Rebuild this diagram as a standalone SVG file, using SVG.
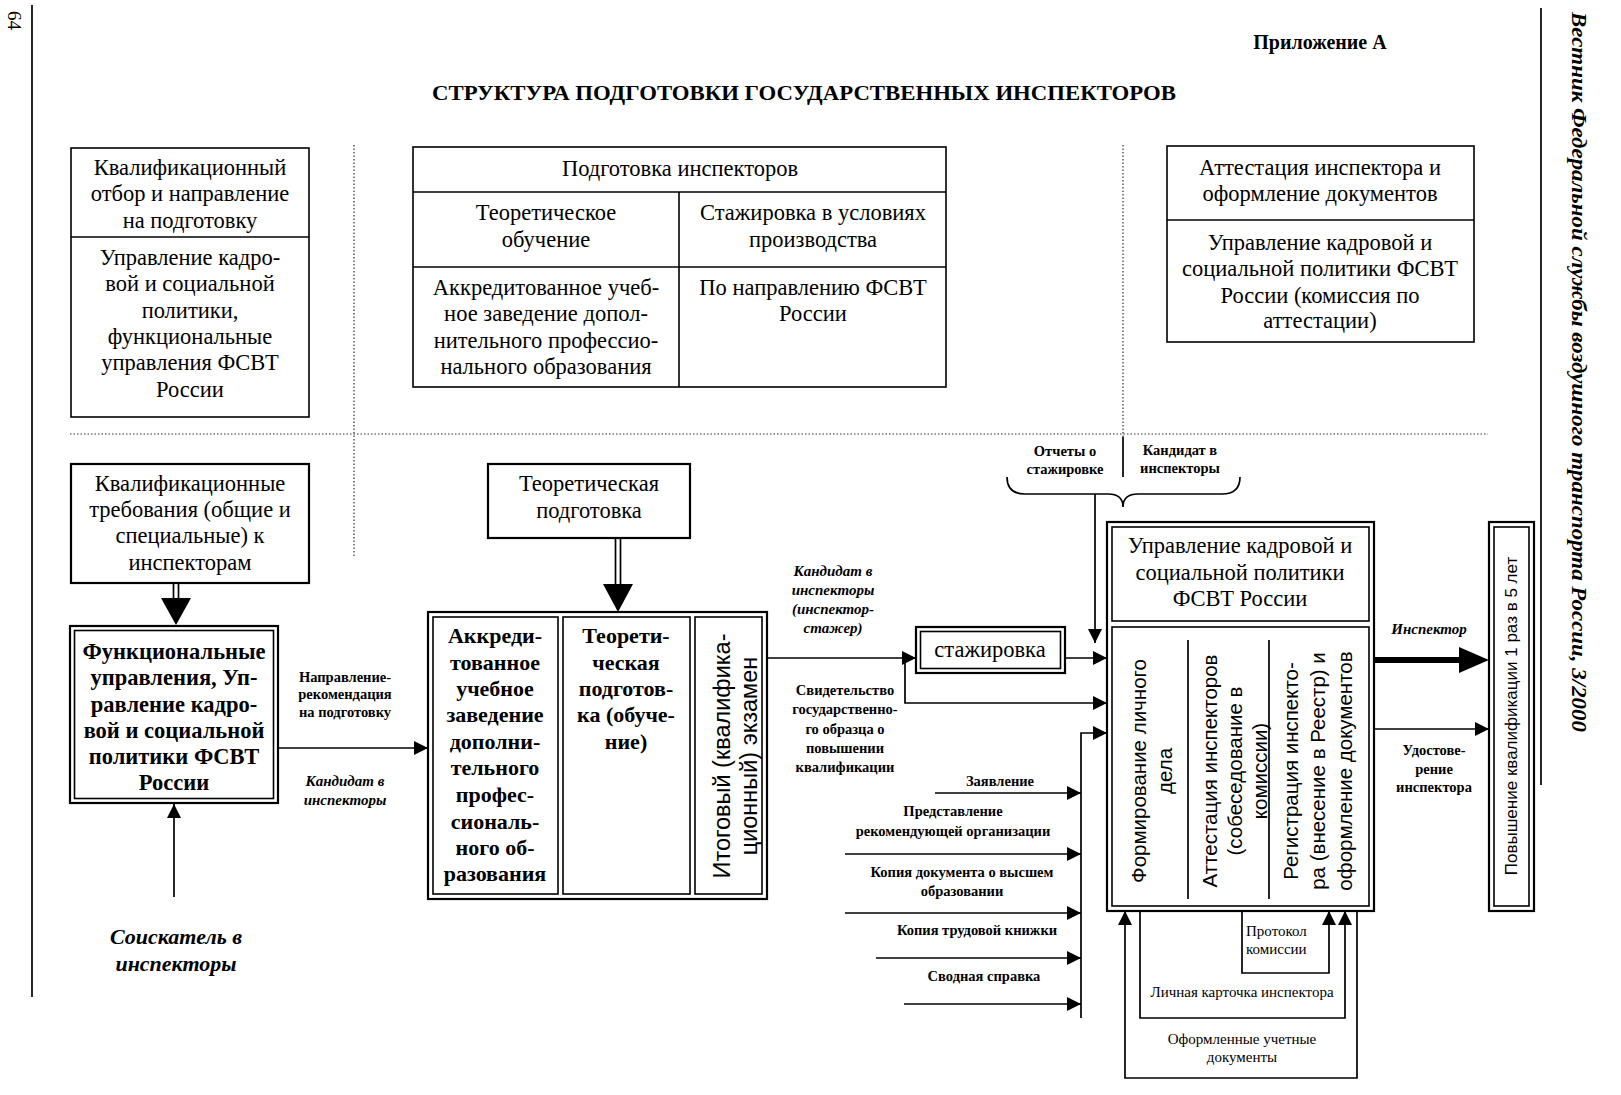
<svg xmlns="http://www.w3.org/2000/svg" width="1621" height="1095" viewBox="0 0 1621 1095">
<style>
.bx{fill:none;stroke:#000;stroke-width:1.6}
.bx2{fill:none;stroke:#000;stroke-width:2.2}
.ln{fill:none;stroke:#000;stroke-width:1.7}
.dt{fill:none;stroke:#333;stroke-width:1.2;stroke-dasharray:1.5 2}
.t{font-family:"Liberation Serif","Times New Roman",serif;font-size:22.5px;text-anchor:middle;fill:#000}
.tb{font-family:"Liberation Serif","Times New Roman",serif;font-size:22px;font-weight:bold;text-anchor:middle;fill:#000}
.s{font-family:"Liberation Serif","Times New Roman",serif;font-size:14.5px;font-weight:bold;text-anchor:middle;fill:#000}
.sr{font-family:"Liberation Serif","Times New Roman",serif;font-size:15px;text-anchor:middle;fill:#000}
.si{font-family:"Liberation Serif","Times New Roman",serif;font-size:15px;font-weight:bold;font-style:italic;text-anchor:middle;fill:#000}
.r{font-family:"Liberation Sans",Arial,sans-serif;font-size:20.5px;text-anchor:middle;fill:#000}
</style>
<defs>
<marker id="ah" markerUnits="userSpaceOnUse" markerWidth="15" markerHeight="15" refX="14" refY="7" orient="auto"><path d="M0,0 L14,7 L0,14 Z" fill="#000"/></marker>
</defs>
<rect width="1621" height="1095" fill="#fff"/>

<g id="page">
<text transform="translate(8,11) rotate(90)" style="font-family:'Liberation Serif',serif;font-size:19px;fill:#000">64</text>
<line x1="32" y1="5" x2="32" y2="997" class="ln"/>
<line x1="1541" y1="8" x2="1541" y2="785" class="ln" stroke-width="1.2"/>
<text transform="translate(1572,12) rotate(90)" textLength="720" lengthAdjust="spacingAndGlyphs" style="font-family:'Liberation Serif',serif;font-size:22px;font-weight:bold;font-style:italic;fill:#000">Вестник Федеральной службы воздушного транспорта России, 3/2000</text>
<text x="1320" y="49" class="tb" style="font-size:20px">Приложение А</text>
<text x="804" y="100" class="tb" textLength="744" lengthAdjust="spacingAndGlyphs">СТРУКТУРА ПОДГОТОВКИ ГОСУДАРСТВЕННЫХ ИНСПЕКТОРОВ</text>
<line x1="70" y1="434" x2="1488" y2="434" class="dt"/>
<line x1="354" y1="145" x2="354" y2="558" class="dt"/>
<line x1="1123" y1="145" x2="1123" y2="437" class="dt"/>
</g>

<g id="boxA">
<rect x="71" y="148" width="238" height="269" class="bx"/>
<line x1="71" y1="237" x2="309" y2="237" class="bx"/>
<text class="t" x="190" y="175">Квалификационный</text>
<text class="t" x="190" y="201">отбор и направление</text>
<text class="t" x="190" y="228">на подготовку</text>
<text class="t" x="190" y="265">Управление кадро-</text>
<text class="t" x="190" y="291">вой и социальной</text>
<text class="t" x="190" y="318">политики,</text>
<text class="t" x="190" y="344">функциональные</text>
<text class="t" x="190" y="370">управления ФСВТ</text>
<text class="t" x="190" y="397">России</text>
</g>

<g id="boxB">
<rect x="413" y="147" width="533" height="240" class="bx"/>
<line x1="413" y1="192" x2="946" y2="192" class="bx"/>
<line x1="413" y1="267" x2="946" y2="267" class="bx"/>
<line x1="679" y1="192" x2="679" y2="387" class="bx"/>
<text class="t" x="680" y="176">Подготовка инспекторов</text>
<text class="t" x="546" y="220">Теоретическое</text>
<text class="t" x="546" y="247">обучение</text>
<text class="t" x="813" y="220">Стажировка в условиях</text>
<text class="t" x="813" y="247">производства</text>
<text class="t" x="546" y="295">Аккредитованное учеб-</text>
<text class="t" x="546" y="321">ное заведение допол-</text>
<text class="t" x="546" y="348">нительного профессио-</text>
<text class="t" x="546" y="374">нального образования</text>
<text class="t" x="813" y="295">По направлению ФСВТ</text>
<text class="t" x="813" y="321">России</text>
</g>

<g id="boxC">
<rect x="1167" y="146" width="307" height="196" class="bx"/>
<line x1="1167" y1="220" x2="1474" y2="220" class="bx"/>
<text class="t" x="1320" y="175">Аттестация инспектора и</text>
<text class="t" x="1320" y="201">оформление документов</text>
<text class="t" x="1320" y="250">Управление кадровой и</text>
<text class="t" x="1320" y="276">социальной политики ФСВТ</text>
<text class="t" x="1320" y="303">России (комиссия по</text>
<text class="t" x="1320" y="328">аттестации)</text>
</g>

<g id="boxD">
<rect x="71" y="464" width="238" height="119" class="bx2"/>
<text class="t" x="190" y="491">Квалификационные</text>
<text class="t" x="190" y="517">требования (общие и</text>
<text class="t" x="190" y="543">специальные) к</text>
<text class="t" x="190" y="570">инспекторам</text>
</g>

<g id="boxE">
<rect x="70" y="626" width="208" height="177" class="bx2"/>
<rect x="74.5" y="630.5" width="199" height="168" class="bx"/>
<text class="tb" x="174" y="659" style="font-size:22.5px">Функциональные</text>
<text class="tb" x="174" y="685" style="font-size:22.5px">управления, Уп-</text>
<text class="tb" x="174" y="712" style="font-size:22.5px">равление кадро-</text>
<text class="tb" x="174" y="738" style="font-size:22.5px">вой и социальной</text>
<text class="tb" x="174" y="764" style="font-size:22.5px">политики ФСВТ</text>
<text class="tb" x="174" y="790" style="font-size:22.5px">России</text>
</g>

<g id="applicant">
<text class="tb" x="176" y="944" style="font-style:italic">Соискатель в</text>
<text class="tb" x="176" y="971" style="font-style:italic">инспекторы</text>
</g>

<g id="boxG">
<rect x="488" y="464" width="202" height="74" class="bx2"/>
<text class="t" x="589" y="491">Теоретическая</text>
<text class="t" x="589" y="518">подготовка</text>
</g>

<g id="boxF">
<rect x="428" y="612" width="339" height="287" class="bx2"/>
<rect x="433" y="617" width="125" height="277" class="bx"/>
<rect x="563" y="617" width="127" height="277" class="bx"/>
<rect x="695" y="617" width="67" height="277" class="bx"/>
<text class="tb" x="495" y="643">Аккреди-</text>
<text class="tb" x="495" y="670">тованное</text>
<text class="tb" x="495" y="696">учебное</text>
<text class="tb" x="495" y="722">заведение</text>
<text class="tb" x="495" y="749">дополни-</text>
<text class="tb" x="495" y="775">тельного</text>
<text class="tb" x="495" y="802">профес-</text>
<text class="tb" x="495" y="829">сиональ-</text>
<text class="tb" x="495" y="855">ного об-</text>
<text class="tb" x="495" y="881">разования</text>
<text class="tb" x="626" y="643">Теорети-</text>
<text class="tb" x="626" y="670">ческая</text>
<text class="tb" x="626" y="696">подготов-</text>
<text class="tb" x="626" y="722">ка (обуче-</text>
<text class="tb" x="626" y="749">ние)</text>
<text class="r" transform="translate(730,756) rotate(-90)" style="font-size:23.5px">Итоговый (квалифика-</text>
<text class="r" transform="translate(757,756) rotate(-90)" style="font-size:23.5px">ционный) экзамен</text>
</g>

<g id="boxStazh">
<rect x="916" y="627" width="149" height="46" class="bx2"/>
<rect x="920.5" y="631.5" width="140" height="37" class="bx"/>
<text class="t" x="990" y="657">стажировка</text>
</g>

<g id="boxH">
<rect x="1107" y="522" width="267" height="389" class="bx2"/>
<rect x="1112" y="527" width="257" height="94" class="bx"/>
<rect x="1112" y="627" width="257" height="279" class="bx"/>
<line x1="1188" y1="640" x2="1188" y2="899" class="ln" stroke-width="1.3"/>
<line x1="1269" y1="640" x2="1269" y2="899" class="ln" stroke-width="1.3"/>
<text class="t" x="1240" y="553">Управление кадровой и</text>
<text class="t" x="1240" y="580">социальной политики</text>
<text class="t" x="1240" y="606">ФСВТ России</text>
<text class="r" transform="translate(1146,771) rotate(-90)">Формирование личного</text>
<text class="r" transform="translate(1172,771) rotate(-90)">дела</text>
<text class="r" transform="translate(1217,771) rotate(-90)">Аттестация инспекторов</text>
<text class="r" transform="translate(1242,771) rotate(-90)">(собеседование в</text>
<text class="r" transform="translate(1267,771) rotate(-90)">комиссии)</text>
<text class="r" transform="translate(1298,771) rotate(-90)">Регистрация инспекто-</text>
<text class="r" transform="translate(1325,771) rotate(-90)">ра (внесение в Реестр) и</text>
<text class="r" transform="translate(1352,771) rotate(-90)">оформление документов</text>
</g>

<g id="boxI">
<rect x="1489" y="522" width="45" height="389" class="bx2"/>
<rect x="1494" y="527" width="35" height="379" class="bx"/>
<text class="r" transform="translate(1517,716) rotate(-90)" style="font-size:17px">Повышение квалификации 1 раз в 5 лет</text>
</g>

<g id="connectors">
<line x1="173.5" y1="583" x2="173.5" y2="600" class="ln"/>
<line x1="178.5" y1="583" x2="178.5" y2="600" class="ln"/>
<polygon points="161,598 191,598 176,625" fill="#000"/>
<line x1="615.5" y1="538" x2="615.5" y2="586" class="ln"/>
<line x1="620.5" y1="538" x2="620.5" y2="586" class="ln"/>
<polygon points="603,584 633,584 618,612" fill="#000"/>
<path d="M278,748 H428" class="ln" marker-end="url(#ah)"/>
<path d="M174,897 V804" class="ln" marker-end="url(#ah)"/>
<path d="M767,658 H916" class="ln" marker-end="url(#ah)"/>
<path d="M1065,658 H1107" class="ln" marker-end="url(#ah)"/>
<path d="M905,658 V703 H1107" class="ln" marker-end="url(#ah)"/>
<path d="M1007,477 Q1007,494 1025,494 H1108 Q1123,494 1123,507 Q1123,494 1138,494 H1222 Q1240,494 1240,477" class="ln"/>
<line x1="1123" y1="437" x2="1123" y2="477" class="ln"/>
<path d="M1095,494 V643" class="ln" marker-end="url(#ah)"/>
<path d="M1081,1018 V733 H1107" class="ln" marker-end="url(#ah)"/>
<path d="M935,793 H1081" class="ln" marker-end="url(#ah)"/>
<path d="M845,854 H1081" class="ln" marker-end="url(#ah)"/>
<path d="M845,913 H1081" class="ln" marker-end="url(#ah)"/>
<path d="M876,958 H1081" class="ln" marker-end="url(#ah)"/>
<path d="M904,1004 H1081" class="ln" marker-end="url(#ah)"/>
<line x1="1374" y1="660" x2="1462" y2="660" stroke="#000" stroke-width="6"/>
<polygon points="1459,647 1489,660 1459,673" fill="#000"/>
<path d="M1374,729 H1489" class="ln" marker-end="url(#ah)"/>
<path d="M1357,911 V1078 H1125 V911" class="ln" marker-end="url(#ah)"/>
<path d="M1140,911 V1018 H1345 V911" class="ln" marker-end="url(#ah)"/>
<path d="M1242,911 V973 H1329 V911" class="ln" marker-end="url(#ah)"/>
</g>

<g id="labels">
<text class="s" x="345" y="682">Направление-</text>
<text class="s" x="345" y="699">рекомендация</text>
<text class="s" x="345" y="717">на подготовку</text>
<text class="si" x="345" y="786">Кандидат в</text>
<text class="si" x="345" y="805">инспекторы</text>
<text class="si" x="833" y="576">Кандидат в</text>
<text class="si" x="833" y="595">инспекторы</text>
<text class="si" x="833" y="614">(инспектор-</text>
<text class="si" x="833" y="633">стажер)</text>
<text class="s" x="845" y="695">Свидетельство</text>
<text class="s" x="845" y="714">государственно-</text>
<text class="s" x="845" y="734">го образца о</text>
<text class="s" x="845" y="753">повышении</text>
<text class="s" x="845" y="772">квалификации</text>
<text class="s" x="1065" y="456">Отчеты о</text>
<text class="s" x="1065" y="474">стажировке</text>
<text class="s" x="1180" y="455">Кандидат в</text>
<text class="s" x="1180" y="473">инспекторы</text>
<text class="s" x="1000" y="786">Заявление</text>
<text class="s" x="953" y="816">Представление</text>
<text class="s" x="953" y="836">рекомендующей организации</text>
<text class="s" x="962" y="877">Копия документа о высшем</text>
<text class="s" x="962" y="896">образовании</text>
<text class="s" x="977" y="935">Копия трудовой книжки</text>
<text class="s" x="984" y="981">Сводная справка</text>
<text class="si" x="1429" y="634">Инспектор</text>
<text class="s" x="1434" y="755">Удостове-</text>
<text class="s" x="1434" y="774">рение</text>
<text class="s" x="1434" y="792">инспектора</text>
<text class="sr" x="1246" y="936" style="text-anchor:start">Протокол</text>
<text class="sr" x="1246" y="954" style="text-anchor:start">комиссии</text>
<text class="sr" x="1242" y="997">Личная карточка инспектора</text>
<text class="sr" x="1242" y="1044">Оформленные учетные</text>
<text class="sr" x="1242" y="1062">документы</text>
</g>
</svg>
